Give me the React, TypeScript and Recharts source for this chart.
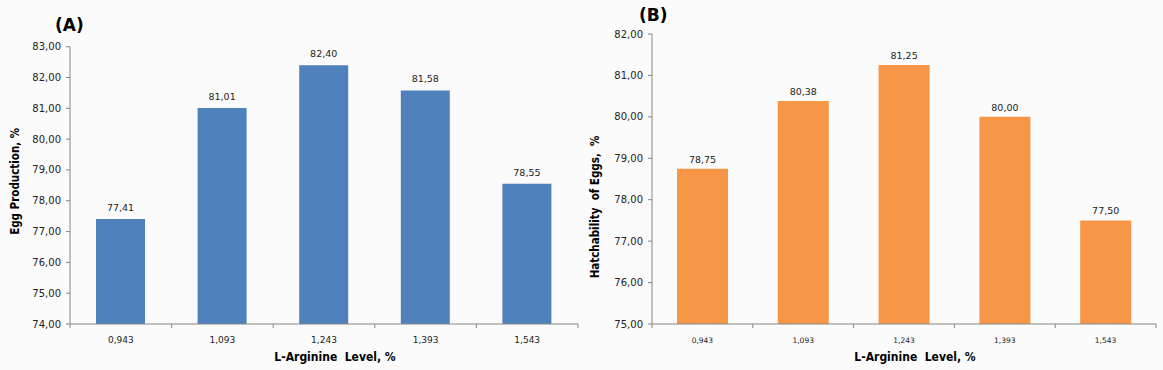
import React from "react";
import { Bar, BarChart, LabelList, XAxis, YAxis } from "recharts";

const categories = ["0,943", "1,093", "1,243", "1,393", "1,543"];
const eggProduction = [77.41, 81.01, 82.4, 81.58, 78.55];
const hatchability = [78.75, 80.38, 81.25, 80.0, 77.5];
const eggTicks = [74, 75, 76, 77, 78, 79, 80, 81, 82, 83];
const hatchTicks = [75, 76, 77, 78, 79, 80, 81, 82];

const eggData = categories.map((level, i) => ({ level, value: eggProduction[i] }));
const hatchData = categories.map((level, i) => ({ level, value: hatchability[i] }));

const TICK_FONT = "'DejaVu Sans', sans-serif";
const TITLE_FONT = "'DejaVu Sans Condensed', 'DejaVu Sans', sans-serif";
const AXIS = "#868686";

const fmt = (v: number) => v.toFixed(2).replace(".", ",");

function CategoryTick(props: any) {
  const { x, y, payload, index, band, fontSize } = props;
  return (
    <g>
      {index === 0 && <line x1={x - band / 2} x2={x - band / 2} y1={y} y2={y + 4} stroke={AXIS} />}
      <line x1={x + band / 2} x2={x + band / 2} y1={y} y2={y + 4} stroke={AXIS} />
      <text x={x} y={y + 19} textAnchor="middle" fontSize={fontSize} fontFamily={TICK_FONT} fill="#222">
        {payload.value}
      </text>
    </g>
  );
}

function Panel({
  data,
  ticks,
  width,
  top,
  yWidth,
  right,
  barSize,
  catFont,
  labelOffset,
  yTitle,
  yTitleShift,
}: {
  data: { level: string; value: number }[];
  ticks: number[];
  width: number;
  top: number;
  yWidth: number;
  right: number;
  barSize: number;
  catFont: number;
  labelOffset: number;
  yTitle: string;
  yTitleShift: number;
}) {
  const band = (width - yWidth - right) / data.length;
  const color = data === eggData ? "#4f81bd" : "#f79646";
  return (
    <BarChart width={width} height={370} data={data} margin={{ top, right, left: 0, bottom: 1 }}>
      <XAxis
        dataKey="level"
        height={45}
        axisLine={{ stroke: AXIS }}
        tickLine={false}
        tickSize={0}
        tickMargin={0}
        interval={0}
        tick={<CategoryTick band={band} fontSize={catFont} />}
        label={{
          content: ({ viewBox }: any) => (
            <text
              x={viewBox.x + viewBox.width / 2 + 11}
              y={361}
              textAnchor="middle"
              fontSize={12}
              fontWeight="bold"
              fontFamily={TITLE_FONT}
              fill="#000"
              style={{ whiteSpace: "pre" }}
            >
              {"L-Arginine  Level, %"}
            </text>
          ),
        }}
      />
      <YAxis
        width={yWidth}
        domain={[ticks[0], ticks[ticks.length - 1]]}
        ticks={ticks}
        interval={0}
        tickFormatter={fmt}
        axisLine={{ stroke: AXIS }}
        tickLine={{ stroke: AXIS }}
        tickSize={4}
        tickMargin={5}
        tick={{ fontSize: 10, fontFamily: TICK_FONT, fill: "#222" }}
        label={{
          content: ({ viewBox }: any) => {
            const cx = 15;
            const cy = viewBox.y + viewBox.height / 2 + yTitleShift;
            return (
              <text
                x={cx}
                y={cy}
                transform={`rotate(-90 ${cx} ${cy})`}
                textAnchor="middle"
                dominantBaseline="central"
                fontSize={11.5}
                fontWeight="bold"
                fontFamily={TITLE_FONT}
                fill="#000"
                style={{ whiteSpace: "pre" }}
              >
                {yTitle}
              </text>
            );
          },
        }}
      />
      <Bar dataKey="value" fill={color} barSize={barSize} isAnimationActive={false}>
        <LabelList
          dataKey="value"
          position="top"
          offset={labelOffset}
          formatter={(v: any) => fmt(Number(v))}
          style={{ fontSize: 9.5, fontFamily: TICK_FONT, fill: "#222" }}
        />
      </Bar>
    </BarChart>
  );
}

export default function App() {
  return (
    <div
      style={{
        position: "absolute",
        left: 0,
        top: 0,
        width: 1163,
        height: 370,
        background: "#fbfbfb",
        overflow: "hidden",
      }}
    >
      <div style={{ position: "absolute", left: 0, top: 0 }}>
        <Panel
          data={eggData}
          ticks={eggTicks}
          width={580}
          top={46.7}
          yWidth={70}
          right={2}
          barSize={49}
          catFont={9}
          labelOffset={8}
          yTitle="Egg Production, %"
          yTitleShift={-4}
        />
      </div>
      <div style={{ position: "absolute", left: 580, top: 0 }}>
        <Panel
          data={hatchData}
          ticks={hatchTicks}
          width={583}
          top={34}
          yWidth={72}
          right={7}
          barSize={51}
          catFont={7.5}
          labelOffset={6}
          yTitle="Hatchability  of Eggs,  %"
          yTitleShift={28}
        />
      </div>
      <div
        style={{
          position: "absolute",
          left: 55,
          top: 15,
          fontFamily: TICK_FONT,
          fontWeight: "bold",
          fontSize: 17,
          lineHeight: "20px",
          color: "#000",
        }}
      >
        (A)
      </div>
      <div
        style={{
          position: "absolute",
          left: 639,
          top: 5,
          fontFamily: TICK_FONT,
          fontWeight: "bold",
          fontSize: 17,
          lineHeight: "20px",
          color: "#000",
        }}
      >
        (B)
      </div>
    </div>
  );
}
